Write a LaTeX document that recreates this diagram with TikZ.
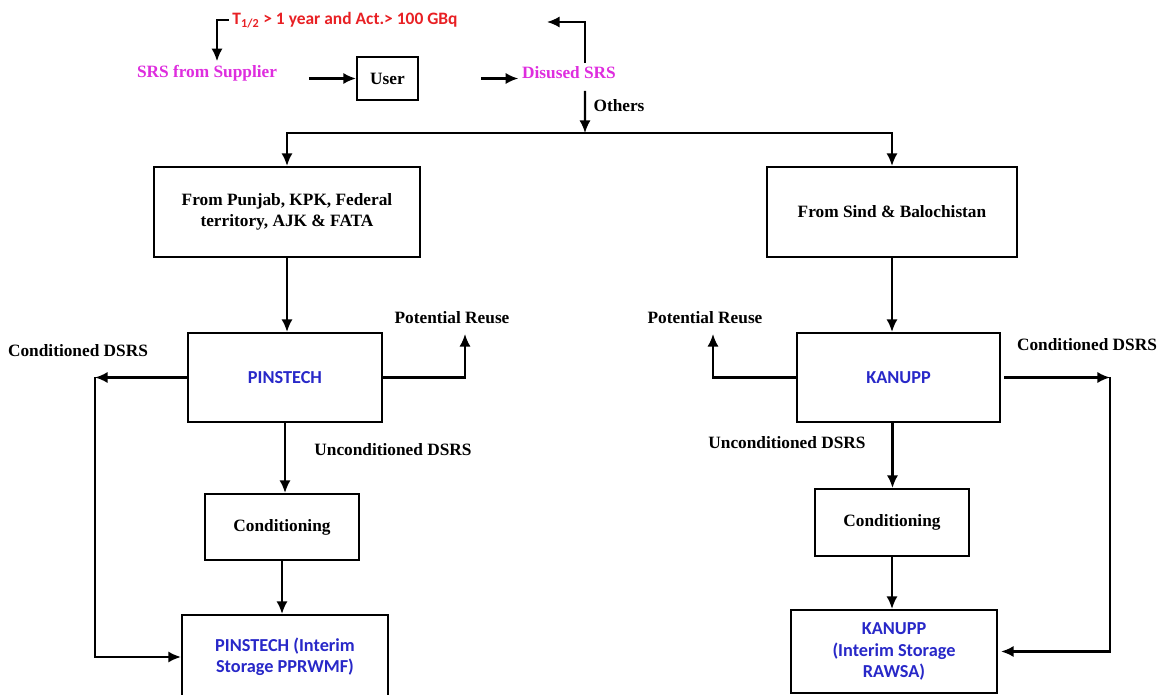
\documentclass[tikz,border=0pt]{standalone}
\usepackage{fontspec}
\setmainfont{Liberation Serif}
\newfontfamily\calfont{Carlito}
\usetikzlibrary{arrows.meta}
\definecolor{srsmag}{RGB}{222,45,222}
\definecolor{actred}{RGB}{232,32,36}
\definecolor{siteblue}{RGB}{40,40,200}

\begin{document}
\begin{tikzpicture}[x=0.025cm,y=-0.025cm,->,>={Latex[length=9pt,width=8pt]},line width=1.5pt,
    main box/.style={draw,rectangle,inner sep=2pt,align=center,font=\fontsize{12.3}{15}\selectfont\bfseries},
    site box/.style={main box,text=siteblue,font=\fontsize{13}{15}\selectfont\calfont\bfseries},
    flow label/.style={inner sep=2pt,font=\fontsize{12.3}{15}\selectfont\bfseries},
    src label/.style={flow label,text=srsmag},
    act label/.style={inner sep=2pt,text=actred,font=\fontsize{12.4}{15}\selectfont\calfont\bfseries}]
    \useasboundingbox (0,0) rectangle (1160,695);

    % top row
    \node[act label] (half) at (345,20) {T\textsubscript{1/2} > 1 year and Act.> 100 GBq};
    \node[src label] (srs) at (207,73) {SRS from Supplier};
    \node[main box,minimum width=1.525cm,minimum height=1.075cm] (user) at (387.5,78.5) {User};
    \node[src label] (disused) at (569,73) {Disused SRS};
    \node[flow label] (others) at (619,106) {Others};
    \coordinate (ret) at (547,22);
    \coordinate (split) at (585,133);

    % origin boxes
    \node[main box,minimum width=6.65cm,minimum height=2.25cm] (punjab) at (287,212) {From Punjab, KPK, Federal\\territory, AJK \& FATA};
    \node[main box,minimum width=6.25cm,minimum height=2.25cm] (sind) at (892,212) {From Sind \& Balochistan};

    % sites
    \node[site box,minimum width=4.85cm,minimum height=2.225cm] (pinstech) at (285,377.5) {PINSTECH};
    \node[site box,minimum width=5.075cm,minimum height=2.225cm] (kanupp) at (898.5,377.5) {KANUPP};
    \node[flow label] (potL) at (452,318) {Potential Reuse};
    \node[flow label] (potR) at (705,318) {Potential Reuse};
    \node[flow label] (cdsL) at (78,351) {Conditioned DSRS};
    \node[flow label] (cdsR) at (1087,345) {Conditioned DSRS};
    \node[flow label] (ucdL) at (393,450) {Unconditioned DSRS};
    \node[flow label] (ucdR) at (787,443) {Unconditioned DSRS};
    \coordinate (reuseL) at (465,334);
    \coordinate (reuseR) at (713,334);
    \coordinate (condLeft) at (95,377.5);
    \coordinate (condRight) at (1110,377.5);

    % conditioning and storage
    \node[main box,minimum width=3.85cm,minimum height=1.65cm] (condL) at (282,527) {Conditioning};
    \node[main box,minimum width=3.85cm,minimum height=1.675cm] (condR) at (892,522.5) {Conditioning};
    \node[site box,minimum width=5.15cm,minimum height=2.1cm] (storeL) at (285,657) {PINSTECH (Interim\\Storage PPRWMF)};
    \node[site box,minimum width=5.15cm,minimum height=2.075cm] (storeR) at (894,651.5) {KANUPP\\(Interim Storage\\RAWSA)};

    % flows
    \draw (half.west) -| ([xshift=0.25cm]srs.north);
    \draw[shorten <=0.7cm] (srs.east |- user.west) -- (user.west);
    \draw[shorten <=1.55cm] (user.east) -- (user.east -| disused.west);
    \draw ([xshift=0.4cm]disused.north) |- (ret);
    \draw[shorten <=0.2cm] ([xshift=0.4cm]disused.south) -- (split);
    \draw (split) -| (punjab.north);
    \draw (split) -| (sind.north);

    \draw (punjab.south) -- (punjab.south |- pinstech.north);
    \draw (sind.south) -- (sind.south |- kanupp.north);
    \draw (pinstech.east) -| (reuseL);
    \draw (kanupp.west) -| (reuseR);
    \draw (pinstech.west) -- (condLeft);
    \draw (condLeft) |- (storeL.west);
    \draw ([xshift=0.075cm]kanupp.east) -- (condRight);
    \draw[shorten >=0.075cm] (condRight) |- (storeR.east);

    \draw (pinstech.south) -- (pinstech.south |- condL.north);
    \draw (condL.south) -- (condL.south |- storeL.north);
    \draw ([xshift=-0.15cm]kanupp.south) -- ([xshift=-0.15cm]kanupp.south |- condR.north);
    \draw (condR.south) -- (condR.south |- storeR.north);
\end{tikzpicture}
\end{document}
